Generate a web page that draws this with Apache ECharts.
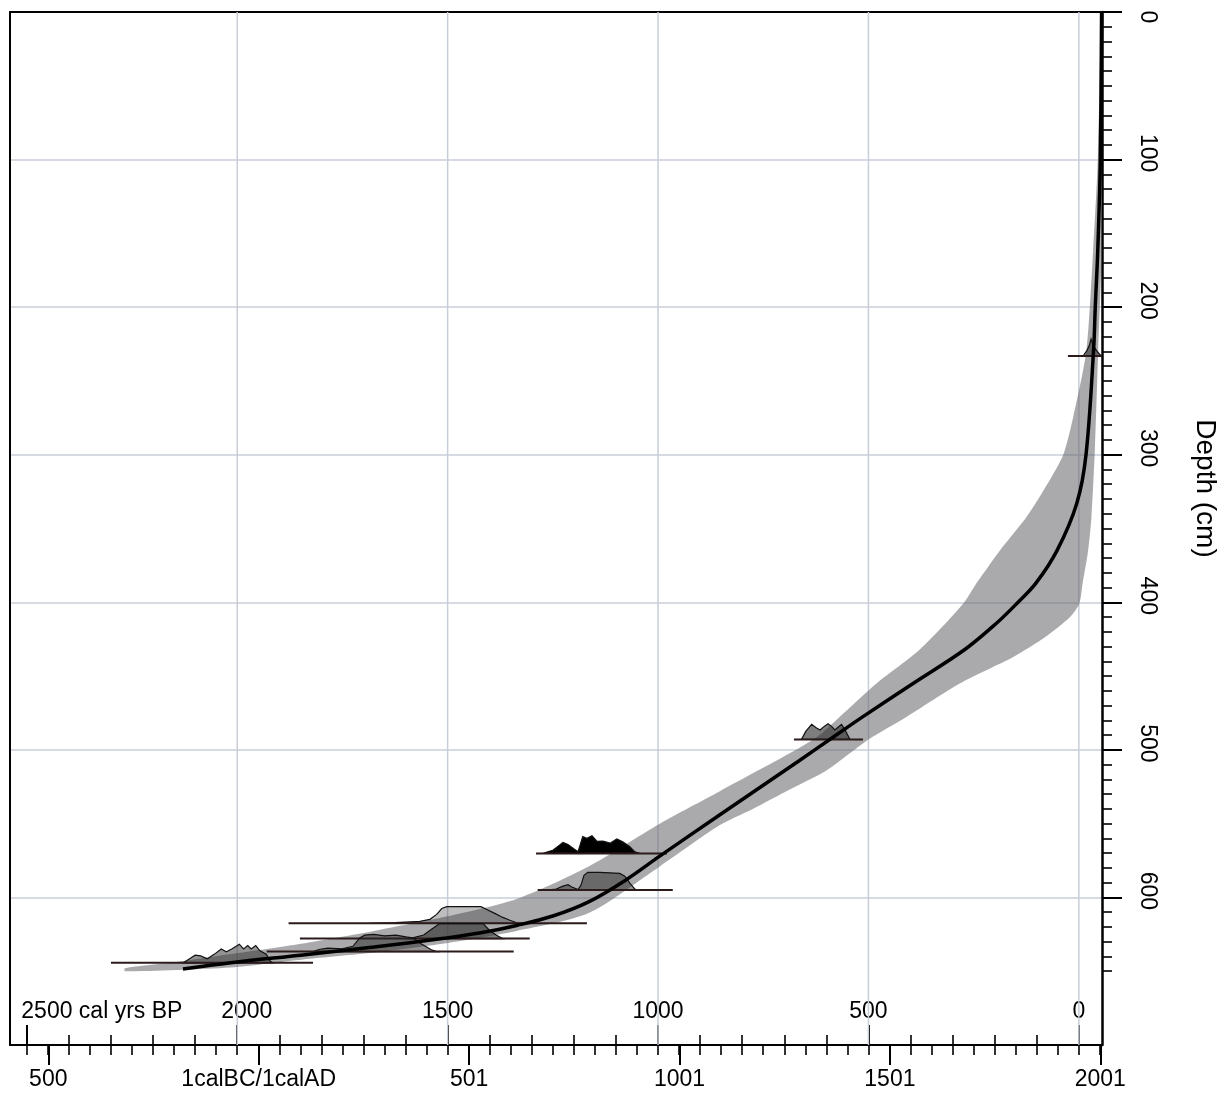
<!DOCTYPE html>
<html>
<head>
<meta charset="utf-8">
<script src="https://cdn.jsdelivr.net/npm/echarts@6/dist/echarts.min.js"></script>
<style>html,body{margin:0;padding:0;background:#fff}#c{width:1229px;height:1097px}</style>
</head>
<body>
<div id="c"></div>
<script>
// ---------- axis extents & ticks ----------
const X_MIN = -590, X_MAX = 2005;          // calendar years AD
const DEPTH_MAX = 700;                      // cm
const BP_ZERO = 1950;                       // BP 0 = AD 1950

const adTickValues = [-499, 1, 501, 1001, 1501, 2001];
const adTickLabels = ['500', '1calBC/1calAD', '501', '1001', '1501', '2001'];
const adMinorTicks = [];
for (let v = -550; v <= 2000; v += 50) adMinorTicks.push(v);

const bpTickValues = [2500, 2000, 1500, 1000, 500, 0];
const bpTickLabels = ['2500 cal yrs BP', '2000', '1500', '1000', '500', '0'];
const bpMinorTicks = [];
for (let v = 0; v <= 2500; v += 100) bpMinorTicks.push(v);
const bpGridValues = [2000, 1500, 1000, 500, 0];

const depthTickValues = [0, 100, 200, 300, 400, 500, 600];
const depthMinorTicks = [];
for (let v = 0; v <= 650; v += 10) depthMinorTicks.push(v);

// ---------- age-depth model (best fit) ----------
const curveDepth = [0, 100, 161, 200, 229, 300, 333, 365, 387, 401, 414, 432, 455, 477.5, 493, 507, 544, 572, 589, 603, 612.6, 619, 624, 627.5, 633.6, 639, 644.2, 648.5];
const curveAge   = [2004, 2001, 1995, 1989, 1985, 1967, 1945, 1898, 1848, 1802, 1755, 1679, 1556, 1437, 1358, 1287, 1097, 954, 869, 785, 700, 614, 529, 446, 275, 106, -65, -179];

// ---------- confidence envelope ----------
const bandOldDepth = [0, 100, 161, 229, 274, 300, 319, 342, 365, 387, 401, 432, 455, 477.5, 493, 528, 550, 579, 601, 613, 622.7, 631.2, 638.4, 644, 648];
const bandOldAge   = [2003, 1995, 1984, 1968, 1937, 1913, 1877, 1826, 1762, 1707, 1675, 1572, 1469, 1382, 1319, 1097, 954, 785, 614, 446, 275, 106, -65, -200, -317];
const bandYoungDepth = [0, 161, 229, 297, 342, 365, 387, 401, 410, 423, 437, 455, 477.5, 493, 514, 527, 540, 551, 579, 610.6, 622.7, 631, 637.3, 642, 647.4, 650];
const bandYoungAge   = [2005, 2004, 1996, 1988, 1980, 1972, 1959, 1951, 1929, 1873, 1794, 1667, 1541, 1450, 1350, 1262, 1175, 1097, 954, 785, 614, 446, 275, 106, -65, -317];

// ---------- dated levels ----------
const dateDepth = [233.1, 492.9, 570.2, 595, 617.5, 627.9, 636.7, 644.3];
const dateFrom  = [1924, 1273, 660, 664, 72, 99, 20, -350];
const dateTo    = [2005, 1437, 971, 985, 781, 645, 607, 130];
const distAges = [
  [1960, 1969, 1975, 1979, 1984, 1992, 2003],
  [1291, 1301, 1315, 1325, 1335, 1344, 1354, 1363, 1370, 1377, 1386, 1394, 1406],
  [676, 688, 700, 712, 724, 736, 748, 760, 771, 781, 793, 805, 819, 836, 852, 866, 883, 895, 907],
  [686, 708, 724, 736, 745, 760, 767, 774, 783, 812, 836, 859, 871, 883, 895, 902],
  [265, 325, 384, 408, 424, 436, 448, 491, 529, 543, 562, 581, 598, 614, 624],
  [360, 393, 410, 431, 534, 548, 565, 581],
  [131, 144, 165, 199, 225, 241, 253, 275, 300, 327, 351, 369, 386, 410, 424],
  [-178, -166, -150, -137, -121, -104, -88, -76, -63, -45, -35, -25, -17, -6, 4, 19, 28, 35]
];
const distProbs = [
  [0, 0.3, 0.6, 0.95, 0.6, 0.3, 0],
  [0, 0.45, 0.85, 0.67, 0.53, 0.72, 0.88, 0.72, 0.53, 0.67, 0.85, 0.56, 0],
  [0, 0.09, 0.18, 0.4, 0.62, 0.5, 0.3, 0.1, 0.95, 0.85, 1.0, 0.68, 0.7, 0.58, 0.82, 0.66, 0.38, 0.09, 0],
  [0, 0.06, 0.22, 0.3, 0.17, 0.03, 0.28, 0.83, 1.0, 1.0, 0.97, 0.94, 0.78, 0.39, 0.05, 0],
  [0, 0.03, 0.11, 0.22, 0.5, 0.83, 0.94, 0.94, 0.94, 0.78, 0.56, 0.33, 0.17, 0.03, 0],
  [0, 0.2, 0.5, 0.85, 0.85, 0.5, 0.2, 0],
  [0, 0.12, 0.2, 0.16, 0.3, 0.77, 0.93, 0.97, 0.89, 0.93, 0.83, 0.77, 0.46, 0.12, 0],
  [0, 0.19, 0.43, 0.39, 0.23, 0.49, 0.78, 0.62, 0.78, 1.05, 0.78, 0.97, 0.78, 0.97, 0.68, 0.49, 0.1, 0]
];

// ---------- styles ----------
const FONT = '"Liberation Sans", Arial, Helvetica, sans-serif';
const DIST_H = 12; // cm of depth per unit probability
const distFill = ['rgba(40,40,40,0.55)', 'rgba(40,40,40,0.6)', '#000000', 'rgba(40,40,40,0.5)',
                  'rgba(40,40,40,0.3)', 'rgba(40,40,40,0.6)', 'rgba(40,40,40,0.5)', 'rgba(40,40,40,0.5)'];
const GRID_COLOR = '#c8ced8';

const adLabelMap = {}; adTickValues.forEach((v, i) => adLabelMap[v] = adTickLabels[i]);
const bpLabelMap = {}; bpTickValues.forEach((v, i) => bpLabelMap[v] = bpTickLabels[i]);

const chart = echarts.init(document.getElementById('c'), null, {renderer: 'canvas'});

const option = {
  backgroundColor: '#ffffff',
  animation: false,
  grid: {left: 10, right: 127, top: 12, bottom: 52, containLabel: false, outerBoundsMode: 'none'},
  xAxis: [
    { // 0: AD axis, main
      type: 'value', position: 'bottom', min: X_MIN, max: X_MAX,
      axisLine: {show: true, onZero: false, lineStyle: {color: '#000', width: 2}},
      axisTick: {show: true, customValues: adTickValues, length: 20, inside: false, lineStyle: {color: '#000', width: 2}},
      axisLabel: {show: true, customValues: adTickValues, margin: 23, fontSize: 23, fontFamily: FONT, color: '#000',
                  formatter: v => adLabelMap[v] !== undefined ? adLabelMap[v] : ''},
      splitLine: {show: false}
    },
    { // 1: AD minor ticks
      type: 'value', position: 'bottom', min: X_MIN, max: X_MAX,
      axisLine: {show: false, onZero: false},
      axisTick: {show: true, customValues: adMinorTicks, length: 10, inside: false, lineStyle: {color: '#000', width: 1.6}},
      axisLabel: {show: false}, splitLine: {show: false}
    },
    { // 2: BP axis, main (inside)
      type: 'value', position: 'bottom', inverse: true, min: BP_ZERO - X_MAX, max: BP_ZERO - X_MIN,
      axisLine: {show: false, onZero: false},
      axisTick: {show: true, customValues: bpTickValues, length: 20, inside: true, lineStyle: {color: '#000', width: 2}},
      axisLabel: {show: true, inside: true, customValues: bpTickValues, margin: 22, fontSize: 23, fontFamily: FONT, color: '#000',
                  formatter: v => {
                    const t = bpLabelMap[v];
                    if (v === 2500) return '{first|' + t + '}';
                    if (v === 2000) return '{shift|' + t + '}';
                    return t;
                  },
                  rich: {
                    first: {padding: [0, 0, 0, 150], fontSize: 23, fontFamily: FONT, color: '#000'},
                    shift: {padding: [0, 0, 0, 19], fontSize: 23, fontFamily: FONT, color: '#000'}
                  }},
      splitLine: {show: false}
    },
    { // 3: BP minor ticks
      type: 'value', position: 'bottom', inverse: true, min: BP_ZERO - X_MAX, max: BP_ZERO - X_MIN,
      axisLine: {show: false, onZero: false},
      axisTick: {show: true, customValues: bpMinorTicks, length: 10, inside: true, lineStyle: {color: '#000', width: 1.6}},
      axisLabel: {show: false}, splitLine: {show: false}
    },
    { // 4: top frame
      type: 'value', position: 'top', min: X_MIN, max: X_MAX,
      axisLine: {show: true, onZero: false, lineStyle: {color: '#000', width: 2}},
      axisTick: {show: false}, axisLabel: {show: false}, splitLine: {show: false}
    }
  ],
  yAxis: [
    { // 0: depth grid lines
      type: 'value', position: 'right', inverse: true, min: 0, max: DEPTH_MAX, interval: 100,
      axisLine: {show: false, onZero: false}, axisTick: {show: false}, axisLabel: {show: false},
      splitLine: {show: true, lineStyle: {color: GRID_COLOR, width: 1.5}}
    },
    { // 1: depth axis main
      type: 'value', position: 'right', inverse: true, min: 0, max: DEPTH_MAX,
      name: 'Depth (cm)', nameLocation: 'middle', nameGap: 89, nameRotate: -90, nameMoveOverlap: false,
      nameTextStyle: {fontSize: 28, fontFamily: FONT, color: '#000', padding: [0, 80, 0, 0]},
      axisLine: {show: true, onZero: false, lineStyle: {color: '#000', width: 2.5}},
      axisTick: {show: true, customValues: depthTickValues, length: 20, inside: false, lineStyle: {color: '#000', width: 2}},
      axisLabel: {show: true, customValues: depthTickValues, rotate: -90, margin: 34, fontSize: 23, fontFamily: FONT, color: '#000',
                  padding: [0, 13, 0, 0],
                  formatter: v => v === 0 ? '{z|0}' : String(v),
                  rich: {z: {padding: [0, 0, 0, 23], fontSize: 23, fontFamily: FONT, color: '#000'}}},
      splitLine: {show: false}
    },
    { // 2: depth minor ticks
      type: 'value', position: 'right', inverse: true, min: 0, max: DEPTH_MAX,
      axisLine: {show: false, onZero: false},
      axisTick: {show: true, customValues: depthMinorTicks, length: 10, inside: false, lineStyle: {color: '#000', width: 1.6}},
      axisLabel: {show: false}, splitLine: {show: false}
    },
    { // 3: left frame
      type: 'value', position: 'left', inverse: true, min: 0, max: DEPTH_MAX,
      axisLine: {show: true, onZero: false, lineStyle: {color: '#000', width: 2}},
      axisTick: {show: false}, axisLabel: {show: false}, splitLine: {show: false}
    }
  ],
  series: [
    { // vertical grid lines at BP multiples of 500
      type: 'custom', name: 'bpGrid', xAxisIndex: 2, yAxisIndex: 0, silent: true, z: 1, clip: false,
      data: bpGridValues.map(v => [v, 0]),
      renderItem: (params, api) => {
        const v = api.value(0);
        const p0 = api.coord([v, 0]), p1 = api.coord([v, DEPTH_MAX]);
        return {type: 'line', shape: {x1: p0[0], y1: p0[1], x2: p1[0], y2: p1[1]},
                style: {stroke: GRID_COLOR, lineWidth: 1.5}};
      }
    },
    { // confidence envelope
      type: 'custom', name: 'envelope', xAxisIndex: 0, yAxisIndex: 0, silent: true, z: 2, clip: false,
      data: [[bandOldAge[0], bandOldDepth[0]]],
      renderItem: (params, api) => {
        const pts = [];
        for (let i = 0; i < bandOldAge.length; i++) pts.push(api.coord([bandOldAge[i], bandOldDepth[i]]));
        for (let i = bandYoungAge.length - 1; i >= 0; i--) pts.push(api.coord([bandYoungAge[i], bandYoungDepth[i]]));
        return {type: 'polygon', shape: {points: pts, smooth: 0.25},
                style: {fill: 'rgba(100,100,105,0.55)', stroke: null}};
      }
    },
    { // calibrated dates
      type: 'custom', name: 'dates', xAxisIndex: 0, yAxisIndex: 0, silent: true, z: 3, clip: false,
      data: dateDepth.map((d, i) => [dateFrom[i], d]),
      renderItem: (params, api) => {
        const i = params.dataIndex;
        const d = dateDepth[i];
        const pts = distAges[i].map((a, k) => api.coord([a, d - distProbs[i][k] * DIST_H]));
        const l0 = api.coord([dateFrom[i], d]), l1 = api.coord([dateTo[i], d]);
        return {type: 'group', children: [
          {type: 'polygon', shape: {points: pts}, style: {fill: distFill[i], stroke: '#111', lineWidth: 1.2}},
          {type: 'line', shape: {x1: l0[0], y1: l0[1], x2: l1[0], y2: l1[1]}, style: {stroke: '#2b1b1b', lineWidth: 2}}
        ]};
      }
    },
    { // best-fit age-depth curve
      type: 'line', name: 'model', xAxisIndex: 0, yAxisIndex: 0, z: 4, silent: true,
      data: curveAge.map((a, i) => [a, curveDepth[i]]),
      showSymbol: false, symbol: 'none', smooth: 0.35,
      lineStyle: {color: '#000', width: 3.5}
    }
  ]
};
chart.setOption(option);
</script>
</body>
</html>
